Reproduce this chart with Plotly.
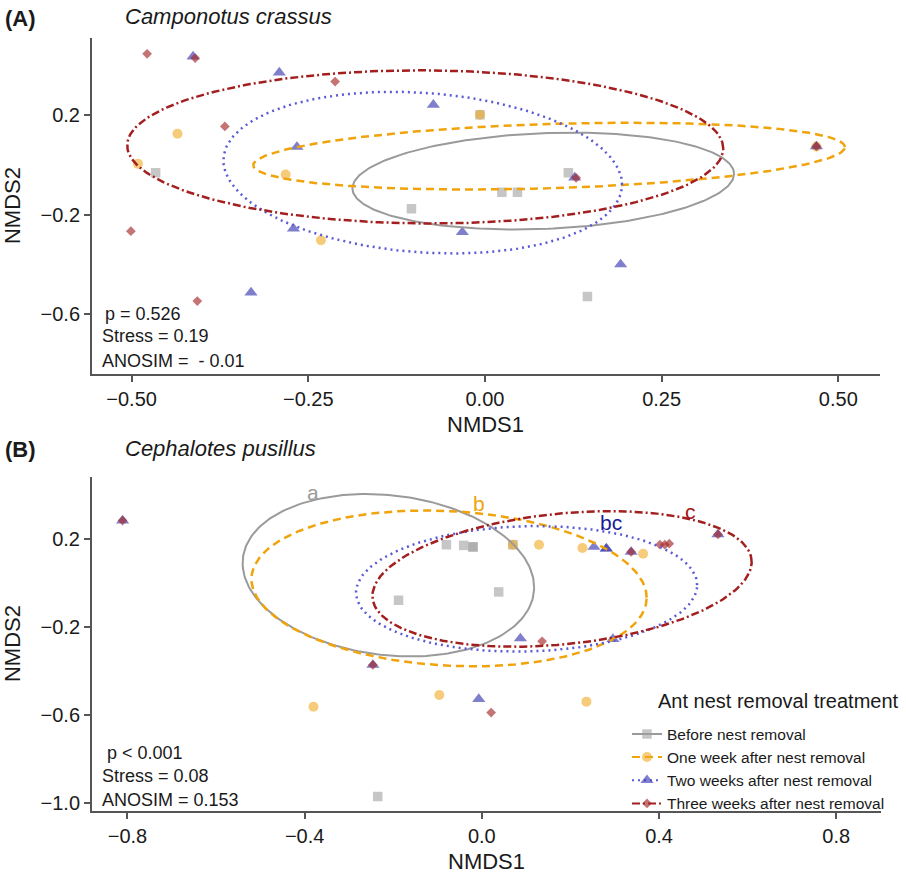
import numpy as np
import plotly.graph_objects as go

FONT = "Liberation Sans, Arial, sans-serif"

# ---------------- data ----------------
groups = ["Before nest removal", "One week after nest removal",
          "Two weeks after nest removal", "Three weeks after nest removal"]

# Panel A  (Camponotus crassus)
a_before_x = [-0.466, -0.007, 0.024, 0.046, 0.118, -0.104, 0.145]
a_before_y = [-0.033, 0.200, -0.111, -0.111, -0.033, -0.177, -0.529]
a_one_x = [-0.435, -0.491, -0.282, -0.007, -0.232, 0.469]
a_one_y = [0.124, 0.003, -0.040, 0.200, -0.303, 0.073]
a_two_x = [-0.413, -0.291, -0.073, -0.266, -0.271, -0.032, -0.331, 0.192, 0.127, 0.469]
a_two_y = [0.433, 0.369, 0.240, 0.071, -0.257, -0.271, -0.513, -0.400, -0.052, 0.073]
a_three_x = [-0.478, -0.410, -0.212, -0.368, -0.501, -0.407, 0.129, 0.469]
a_three_y = [0.444, 0.427, 0.333, 0.153, -0.267, -0.547, -0.053, 0.073]

# ellipse parameters per group: centre x, centre y, half-width, half-height, correlation
a_ell_cx = [0.0825, 0.0908, -0.088, -0.0845]
a_ell_cy = [-0.066, 0.034, -0.032, 0.071]
a_ell_sx = [0.270, 0.4186, 0.282, 0.4217]
a_ell_sy = [0.194, 0.134, 0.324, 0.307]
a_ell_rho = [0.15, 0.27, -0.15, -0.02]

# Panel B  (Cephalotes pusillus)
b_before_x = [-0.080, -0.041, -0.020, -0.020, -0.188, 0.038, 0.070, -0.235]
b_before_y = [0.175, 0.172, 0.165, 0.165, -0.078, -0.040, 0.175, -0.972]
b_one_x = [0.129, 0.227, 0.364, 0.070, -0.380, -0.096, 0.236]
b_one_y = [0.175, 0.160, 0.134, 0.175, -0.563, -0.510, -0.540]
b_two_x = [0.253, 0.281, 0.281, 0.337, 0.533, 0.087, 0.296, -0.007, -0.246, -0.811]
b_two_y = [0.165, 0.157, 0.157, 0.142, 0.222, -0.252, -0.255, -0.528, -0.373, 0.285]
b_three_x = [0.402, 0.413, 0.423, 0.533, 0.337, 0.136, 0.021, -0.246, -0.811]
b_three_y = [0.175, 0.175, 0.180, 0.222, 0.142, -0.265, -0.590, -0.373, 0.285]

b_ell_cx = [-0.211, -0.074, 0.101, 0.181]
b_ell_cy = [0.036, -0.024, -0.026, 0.019]
b_ell_sx = [0.329, 0.446, 0.385, 0.428]
b_ell_sy = [0.370, 0.355, 0.286, 0.309]
b_ell_rho = [-0.15, -0.12, 0.06, 0.25]

b_letters = ["a", "b", "bc", "c"]
b_letter_x = [-0.382, -0.007, 0.291, 0.471]
b_letter_y = [0.415, 0.361, 0.275, 0.326]

a_xticks = [-0.5, -0.25, 0.0, 0.25, 0.5]
a_xticktext = ["\u22120.50", "\u22120.25", "0.00", "0.25", "0.50"]
a_yticks = [0.2, -0.2, -0.6]
a_yticktext = ["0.2", "\u22120.2", "\u22120.6"]
b_xticks = [-0.8, -0.4, 0.0, 0.4, 0.8]
b_xticktext = ["\u22120.8", "\u22120.4", "0.0", "0.4", "0.8"]
b_yticks = [0.2, -0.2, -0.6, -1.0]
b_yticktext = ["0.2", "\u22120.2", "\u22120.6", "\u22121.0"]

# ---------------- styles ----------------
marker_styles = [
    dict(symbol="square", size=9.5, color="rgba(160,160,160,0.6)", line=dict(width=0)),
    dict(symbol="circle", size=10, color="rgba(240,168,32,0.6)", line=dict(width=0)),
    dict(symbol="triangle-up", size=11.5, color="rgba(59,59,176,0.65)", line=dict(width=0)),
    dict(symbol="diamond", size=7.5, color="rgba(165,42,42,0.65)", line=dict(width=0)),
]
line_styles = [
    dict(color="#9a9a9a", width=2, dash="solid"),
    dict(color="#f0a30a", width=2.5, dash="8px,5px"),
    dict(color="#5a5ad6", width=2.5, dash="2px,4px"),
    dict(color="#a31f1f", width=2.5, dash="8px,3px,2px,3px"),
]
letter_colors = ["#9a9a9a", "#f0a30a", "#1a1a9a", "#a01818"]

fig = go.Figure()

t = np.linspace(0, 2 * np.pi, 241)


def add_panel(xs, ys, cx, cy, sx, sy, rho, xa, ya):
    for g in range(4):
        fig.add_trace(go.Scatter(x=xs[g], y=ys[g], mode="markers", marker=marker_styles[g],
                                 showlegend=False, xaxis=xa, yaxis=ya, hoverinfo="skip"))
    for g in range(4):
        ex = cx[g] + sx[g] * np.cos(t)
        ey = cy[g] + sy[g] * (rho[g] * np.cos(t) + np.sqrt(1 - rho[g] ** 2) * np.sin(t))
        fig.add_trace(go.Scatter(x=ex, y=ey, mode="lines", line=line_styles[g],
                                 showlegend=False, xaxis=xa, yaxis=ya, hoverinfo="skip"))


add_panel([a_before_x, a_one_x, a_two_x, a_three_x], [a_before_y, a_one_y, a_two_y, a_three_y],
          a_ell_cx, a_ell_cy, a_ell_sx, a_ell_sy, a_ell_rho, "x", "y")
add_panel([b_before_x, b_one_x, b_two_x, b_three_x], [b_before_y, b_one_y, b_two_y, b_three_y],
          b_ell_cx, b_ell_cy, b_ell_sx, b_ell_sy, b_ell_rho, "x2", "y2")

# legend entries
for g in range(4):
    ls = dict(line_styles[g])
    ls["width"] = 2
    fig.add_trace(go.Scatter(x=[None], y=[None], mode="lines+markers", name=groups[g],
                             marker=marker_styles[g], line=ls, xaxis="x2", yaxis="y2"))

W, H = 906, 878


def px(v):
    return v / W


def py(v):
    return 1 - v / H


axis_common = dict(showline=True, linecolor="#555555", linewidth=2, ticks="outside", ticklen=6,
                   tickwidth=2, tickcolor="#555555", showgrid=False, zeroline=False,
                   tickfont=dict(size=20, color="#1a1a1a", family=FONT))

fig.update_layout(
    width=W, height=H, autosize=False,
    margin=dict(l=0, r=0, t=0, b=0),
    paper_bgcolor="white", plot_bgcolor="white",
    font=dict(family=FONT, color="#1a1a1a"),
    xaxis=dict(domain=[px(92), px(880)], range=[-0.556, 0.559], tickvals=a_xticks,
               ticktext=a_xticktext, anchor="y", **axis_common),
    yaxis=dict(domain=[py(375), py(38)], range=[-0.84, 0.508], tickvals=a_yticks,
               ticktext=a_yticktext, anchor="x", **axis_common),
    xaxis2=dict(domain=[px(92), px(881)], range=[-0.880, 0.901], tickvals=b_xticks,
                ticktext=b_xticktext, anchor="y2", **axis_common),
    yaxis2=dict(domain=[py(813), py(478)], range=[-1.039, 0.484], tickvals=b_yticks,
                ticktext=b_yticktext, anchor="x2", **axis_common),
    legend=dict(x=px(627), y=py(719), xanchor="left", yanchor="top",
                bgcolor="rgba(0,0,0,0)", font=dict(size=15.5, color="#1a1a1a", family=FONT),
                itemwidth=30),
)

ann = []


def add_text(text, x, y, size, xanchor="left", angle=0, color="#1a1a1a"):
    ann.append(dict(text=text, x=px(x), y=py(y), xref="paper", yref="paper", showarrow=False,
                    xanchor=xanchor, yanchor="middle", textangle=angle,
                    font=dict(size=size, color=color, family=FONT)))


add_text("<b>(A)</b>", 3, 19, 22)
add_text("<i>Camponotus crassus</i>", 123, 17, 22)
add_text("<b>(B)</b>", 3, 451, 22)
add_text("<i>Cephalotes pusillus</i>", 123, 450, 22)
add_text("NMDS1", 486, 425, 22, xanchor="center")
add_text("NMDS1", 486.5, 863, 22, xanchor="center")
add_text("NMDS2", 12, 206.5, 22, xanchor="center", angle=-90)
add_text("NMDS2", 12, 645.5, 22, xanchor="center", angle=-90)
add_text("p = 0.526", 103, 315, 18)
add_text("Stress = 0.19", 100, 336.5, 18)
add_text("ANOSIM = \u00a0- 0.01", 100, 361.7, 18)
add_text("p &lt; 0.001", 105, 755, 18)
add_text("Stress = 0.08", 100, 777.3, 18)
add_text("ANOSIM = 0.153", 100, 801.7, 18)
add_text("Ant nest removal treatment", 656, 703, 20)

for g in range(4):
    ann.append(dict(text=b_letters[g], x=b_letter_x[g], y=b_letter_y[g], xref="x2", yref="y2",
                    showarrow=False, font=dict(size=21, color=letter_colors[g], family=FONT)))

fig.update_layout(annotations=ann)

# remove the page's default 8px body margin so the figure fills the window exactly
fig.write_html("out.html", config={"displayModeBar": False},
               post_script="document.body.style.margin='0';")
